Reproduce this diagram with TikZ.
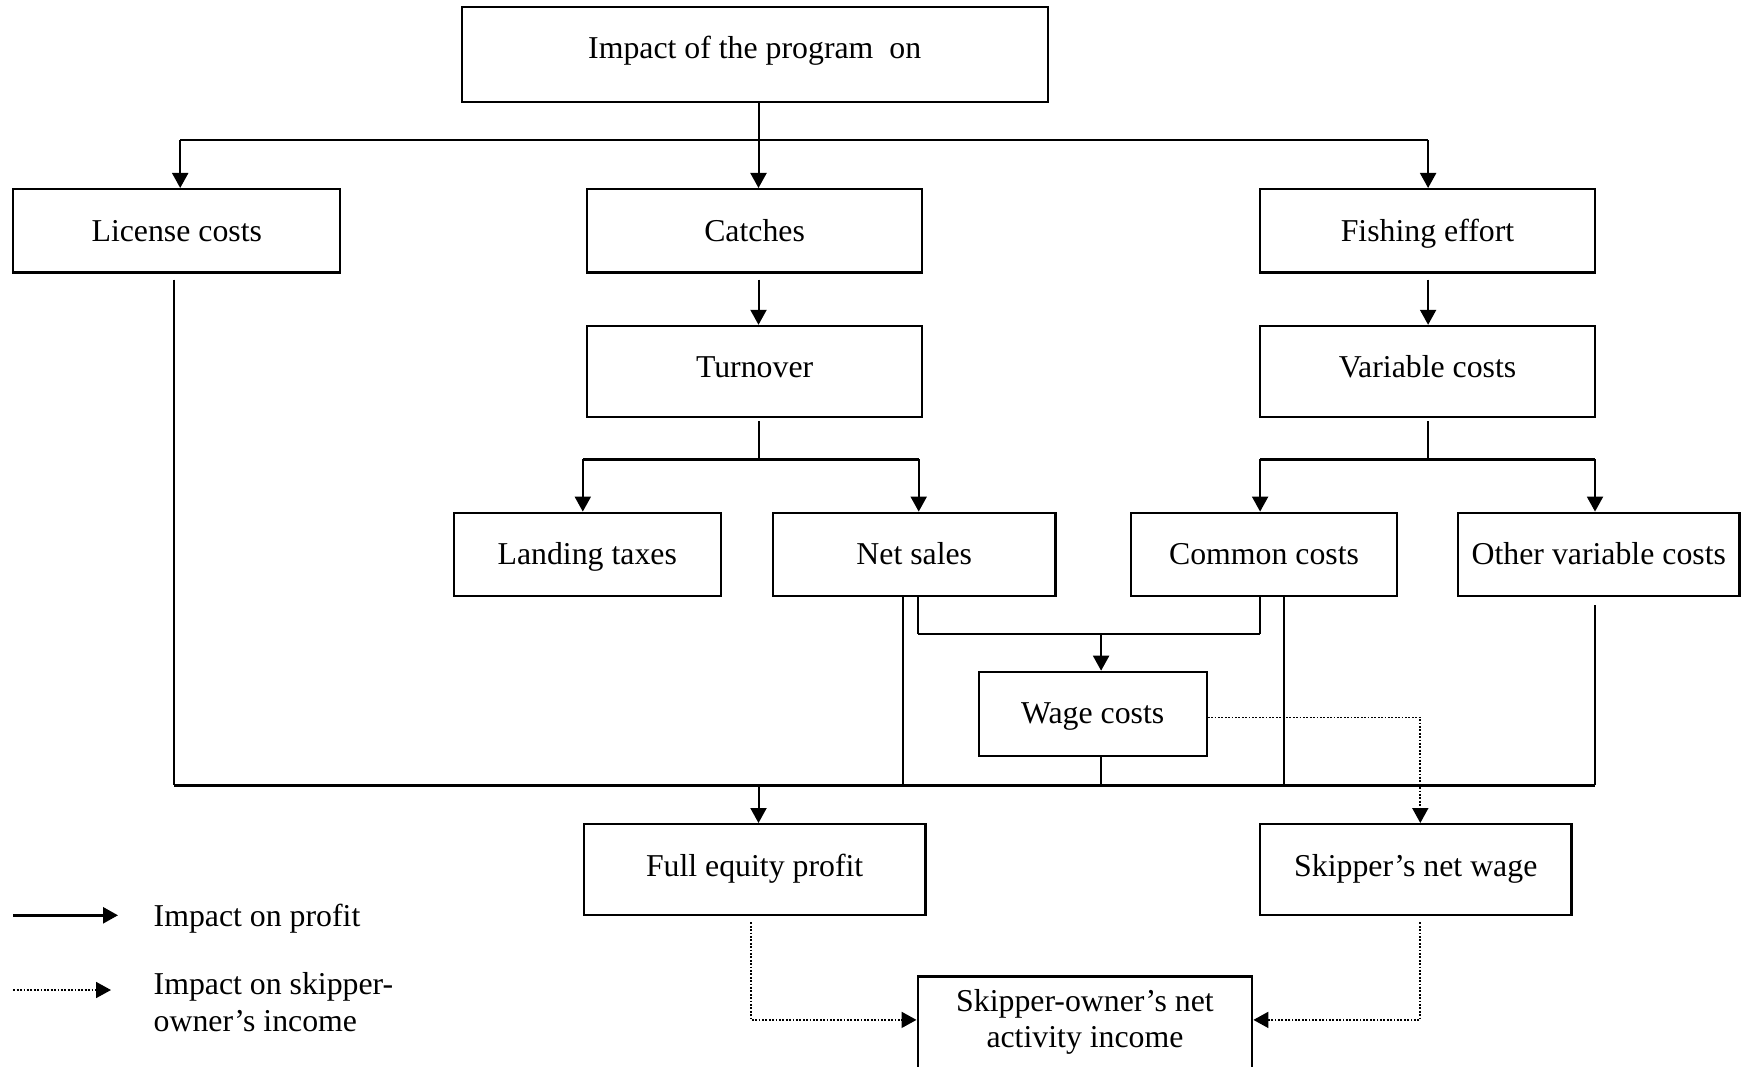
\documentclass[tikz,border=0pt]{standalone}
\usepackage{fontspec}
\setmainfont{Liberation Serif}
\usetikzlibrary{arrows.meta}
\begin{document}
\begin{tikzpicture}[x=1pt,y=-1pt,
  box/.style={draw,line width=2.2pt,inner sep=0pt,text height=22pt,font=\fontsize{31.8}{36.6}\selectfont},
  ln/.style={line width=2pt},
  bus/.style={line width=2.6pt},
  arr/.style={line width=2pt,-{Triangle[length=15pt,width=16pt]}},
  darr/.style={line width=1.8pt,dash pattern=on 1.8pt off 1.6pt,-{Triangle[length=15pt,width=16pt]}},
  txt/.style={inner sep=0pt,font=\fontsize{31.8}{36.6}\selectfont}]
\useasboundingbox (0,0) rectangle (1744,1067);
\fill[white] (0,0) rectangle (1744,1067);
% boxes
\node[box,minimum width=586.1,minimum height=95.6,text depth=13.6pt] (top) at (754.65,54.5) {Impact of the program\ \ on};
\node[box,minimum width=327,minimum height=83.4,text depth=1.4pt] (lic) at (176.8,230.8) {License costs};
\node[box,minimum width=334.8,minimum height=83.4,text depth=1.4pt] (cat) at (754.6,230.8) {Catches};
\node[box,minimum width=334.8,minimum height=83.4,text depth=1.4pt] (fish) at (1427.5,230.8) {Fishing effort};
\node[box,minimum width=334.8,minimum height=91.2,text depth=9.2pt] (turn) at (754.6,371.5) {Turnover};
\node[box,minimum width=334.8,minimum height=91.2,text depth=9.2pt] (var) at (1427.5,371.5) {Variable costs};
\node[box,minimum width=266.9,minimum height=83.4,text depth=1.4pt] (land) at (587.25,554.4) {Landing taxes};
\node[box,minimum width=282.5,minimum height=83.4,text depth=1.4pt] (net) at (914.25,554.4) {Net sales};
\node[box,minimum width=265.9,minimum height=83.4,text depth=1.4pt] (cc) at (1264.05,554.4) {Common costs};
\node[box,minimum width=281.4,minimum height=83.4,text depth=1.4pt] (oth) at (1598.8,554.4) {Other variable costs};
\node[box,minimum width=228,minimum height=84.5,text depth=2.5pt] (wage) at (1092.7,714.05) {Wage costs};
\node[box,minimum width=341.5,minimum height=91.2,text depth=9.2pt] (fep) at (754.65,869.7) {Full equity profit};
\node[box,minimum width=311.4,minimum height=91.2,text depth=9.2pt] (snw) at (1415.8,869.7) {Skipper’s net wage};
\node[box,minimum width=334.7,minimum height=108.5] (so) at (1084.95,1030.75) {};
\node[txt,align=center] (sot) at (1084.95,1022) {Skipper-owner’s net\\activity income};
% top bus
\coordinate (b1) at (758.5,140.1);
\coordinate (bL) at (180.2,140.1);
\coordinate (bR) at (1428.1,140.1);
\draw[ln] (top.south -| b1) -- (b1);
\draw[bus] (bL) -- (bR);
\draw[arr] (bL) -- (bL |- lic.north);
\draw[arr] (b1) -- (b1 |- cat.north);
\draw[arr] (bR) -- (bR |- fish.north);
% row1 -> row2
\draw[arr] ([yshift=-6pt]cat.south -| b1) -- (b1 |- turn.north);
\draw[arr] ([yshift=-6pt]fish.south -| bR) -- (bR |- var.north);
% turnover split
\coordinate (t1) at (758.5,459.3);
\coordinate (tL) at (582.8,459.3);
\coordinate (tR) at (918.7,459.3);
\draw[ln] ([yshift=-3pt]turn.south -| t1) -- (t1);
\draw[bus] (tL) -- (tR);
\draw[arr] (tL) -- (tL |- land.north);
\draw[arr] (tR) -- (tR |- net.north);
% variable split
\coordinate (v1) at (1428.1,459.3);
\coordinate (vL) at (1260.1,459.3);
\coordinate (vR) at (1595,459.3);
\draw[ln] ([yshift=-3pt]var.south -| v1) -- (v1);
\draw[bus] (vL) -- (vR);
\draw[arr] (vL) -- (vL |- cc.north);
\draw[arr] (vR) -- (vR |- oth.north);
% wage inputs
\coordinate (n2) at (917.6,634);
\coordinate (c2) at (1260.1,634);
\coordinate (w1) at (1101.1,634);
\draw[ln] (net.south -| n2) -- (n2);
\draw[bus] (n2) -- (c2);
\draw[ln] (c2) -- (c2 |- cc.south);
\draw[arr] (w1) -- (w1 |- wage.north);
% main bus
\coordinate (mL) at (173.5,785.2);
\coordinate (mR) at (1595,785.2);
\coordinate (n1) at (903.1,785.2);
\coordinate (c3) at (1283.5,785.2);
\coordinate (w2) at (1101.1,785.2);
\coordinate (m1) at (758.5,785.2);
\draw[ln] ([yshift=-6pt]lic.south -| mL) -- (mL);
\draw[ln] (net.south -| n1) -- (n1);
\draw[ln] (cc.south -| c3) -- (c3);
\draw[ln] ([yshift=-8pt]oth.south -| mR) -- (mR);
\draw[ln] (wage.south -| w2) -- (w2);
\draw[bus] (mL) -- (mR);
\draw[arr] (m1) -- (m1 |- fep.north);
% dotted connectors
\coordinate (d1) at (1420.3,717.4);
\coordinate (d2) at (750.7,1019.9);
\coordinate (d3) at (1420.3,1019.9);
\draw[darr] (wage.east |- d1) -- (d1) -- (d1 |- snw.north);
\draw[darr] ([yshift=-6pt]fep.south -| d2) -- (d2) -- (d2 -| so.west);
\draw[darr] ([yshift=-6pt]snw.south -| d3) -- (d3) -- (d3 -| so.east);
% legend
\coordinate (la1) at (13.3,915.3);
\coordinate (la2) at (118,915.3);
\coordinate (lb1) at (13.3,990);
\coordinate (lb2) at (111,990);
\draw[arr,line width=2.6pt] (la1) -- (la2);
\draw[darr] (lb1) -- (lb2);
\node[txt,anchor=west] (lat) at (153.5,919) {Impact on profit};
\node[txt,anchor=west,align=left] (lbt) at (153.5,1002) {Impact on skipper-\\owner’s income};
\end{tikzpicture}
\end{document}
